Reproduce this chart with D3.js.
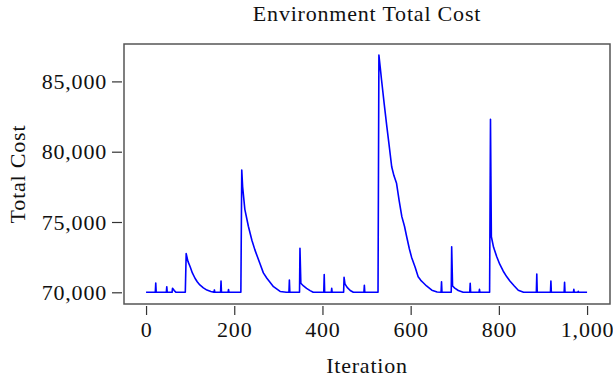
<!DOCTYPE html>
<html>
<head>
<meta charset="utf-8">
<script src="https://cdn.jsdelivr.net/npm/d3@7"></script>
<style>
  body { margin: 0; background: #fff; }
  text { font-family: "Liberation Serif", "DejaVu Serif", serif; fill: #111; letter-spacing: 0.8px; }
</style>
</head>
<body>
<div id="chart"></div>
<script>
// iteration / total cost pairs, one row per event
const iterations = [
  0, 21, 22, 23,
  46, 47, 48,
  59, 60, 64, 68,
  89, 91, 95, 100, 105, 111, 116, 122, 130, 138, 147, 154,
  155, 156,
  169, 170, 171,
  186, 187, 188,
  215, 217, 219, 224, 232, 240, 247, 258, 266, 274, 289, 304, 318,
  324, 325, 326,
  348, 349, 351, 357, 364, 372, 379,
  403, 404, 405,
  420, 421, 422,
  448, 449, 451, 456, 463, 470,
  494, 495, 496,
  526, 528, 531, 534, 540, 546, 551, 557, 562, 568, 574, 580, 586, 591, 597, 602, 610, 617, 623, 628, 636, 648, 660,
  669, 670, 671,
  692, 693, 695, 700, 708, 719,
  734, 735, 736,
  755, 756, 757,
  779, 781, 783, 788, 795, 802, 810, 818, 825, 835, 844, 856,
  885, 886, 887,
  917, 918, 919,
  948, 949, 950,
  969, 970, 971,
  979, 980, 981, 1000
];
const totalCost = [
  70000, 70000, 70660, 70000,
  70000, 70400, 70000,
  70000, 70280, 70120, 70000,
  70000, 72750, 72200, 71820, 71380, 71000, 70750, 70520, 70320, 70160, 70060, 70000,
  70170, 70000,
  70000, 70800, 70000,
  70000, 70200, 70000,
  70000, 78700, 77500, 75900, 74700, 73700, 73000, 72060, 71380, 71000, 70400, 70060, 70000,
  70000, 70870, 70000,
  70000, 73130, 70640, 70450, 70280, 70120, 70000,
  70000, 71260, 70000,
  70000, 70280, 70000,
  70000, 71070, 70600, 70350, 70130, 70000,
  70000, 70500, 70000,
  70000, 86880, 86000, 85100, 83400, 81780, 80500, 78930, 78300, 77750, 76500, 75380, 74700, 73950, 73100, 72500, 71800, 71100, 70850, 70700, 70450, 70150, 70020,
  70000, 70750, 70000,
  70000, 73240, 70450, 70300, 70130, 70000,
  70000, 70640, 70000,
  70000, 70210, 70000,
  70000, 82300, 73950, 73200, 72550, 72000, 71500, 71100, 70800, 70450, 70150, 70000,
  70000, 71300, 70000,
  70000, 70800, 70000,
  70000, 70710, 70000,
  70000, 70210, 70000,
  70000, 70070, 70000, 70000
];
const xTicks = [0, 200, 400, 600, 800, 1000];
const yTicks = [70000, 75000, 80000, 85000];

const width = 613, height = 383;
const box = {left: 124, right: 610, top: 44, bottom: 304};

const svg = d3.select('#chart').append('svg')
  .attr('width', width)
  .attr('height', height);

const x = d3.scaleLinear().domain([-50, 1052]).range([box.left, box.right]);
const y = d3.scaleLinear().domain([69168, 87660]).range([box.bottom, box.top]);

const fmt = d3.format(',');

// x axis, offset a little below the frame
const xAxis = svg.append('g')
  .attr('transform', `translate(0,${box.bottom + 2})`)
  .call(d3.axisBottom(x).tickValues(xTicks).tickFormat(fmt).tickSize(9).tickPadding(6));
xAxis.select('.domain').remove();
xAxis.selectAll('line').attr('stroke', '#333').attr('stroke-width', 1.2);
xAxis.selectAll('text').attr('font-size', 22).attr('fill', '#111');

const yAxis = svg.append('g')
  .attr('transform', `translate(${box.left - 2},0)`)
  .call(d3.axisLeft(y).tickValues(yTicks).tickFormat(fmt).tickSize(10).tickPadding(5));
yAxis.select('.domain').remove();
yAxis.selectAll('line').attr('stroke', '#333').attr('stroke-width', 1.2);
yAxis.selectAll('text').attr('font-size', 22).attr('fill', '#111');

// the line
const pts = iterations.map((d, i) => [d, totalCost[i]]);
svg.append('path')
  .datum(pts)
  .attr('fill', 'none')
  .attr('stroke', '#0000ff')
  .attr('stroke-width', 1.6)
  .attr('stroke-linejoin', 'round')
  .attr('d', d3.line().x(d => x(d[0])).y(d => y(d[1])));

// frame
svg.append('rect')
  .attr('x', box.left).attr('y', box.top)
  .attr('width', box.right - box.left).attr('height', box.bottom - box.top)
  .attr('fill', 'none').attr('stroke', '#555').attr('stroke-width', 1.5);

svg.append('text')
  .attr('x', (box.left + box.right) / 2).attr('y', 21)
  .attr('text-anchor', 'middle').attr('font-size', 22)
  .text('Environment Total Cost');

svg.append('text')
  .attr('x', (box.left + box.right) / 2).attr('y', 373)
  .attr('text-anchor', 'middle').attr('font-size', 22)
  .text('Iteration');

svg.append('text')
  .attr('transform', `translate(25,${(box.top + box.bottom) / 2}) rotate(-90)`)
  .attr('text-anchor', 'middle').attr('font-size', 22)
  .text('Total Cost');
</script>
</body>
</html>
